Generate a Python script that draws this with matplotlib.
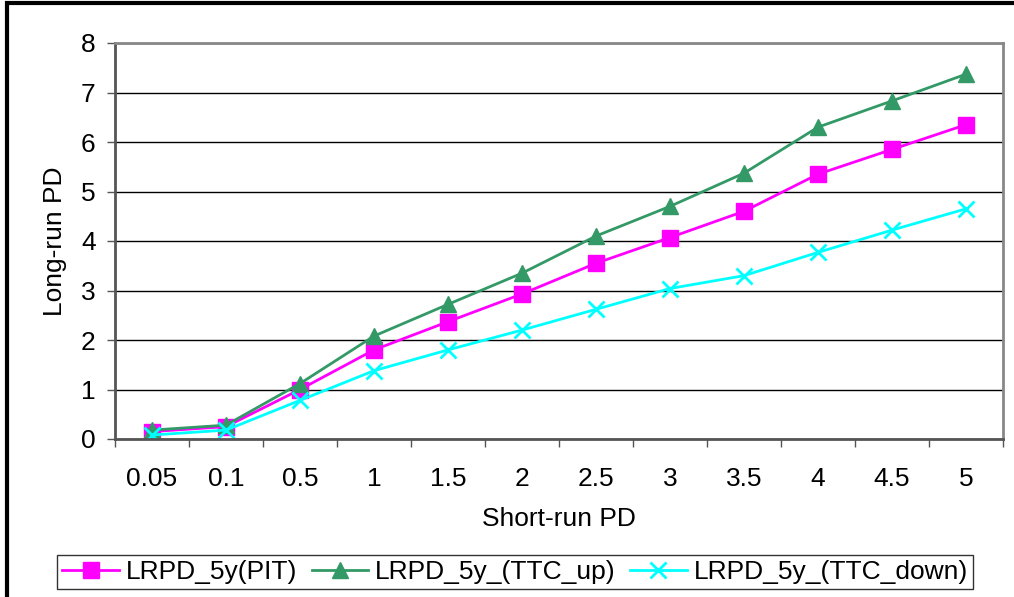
import matplotlib.pyplot as plt
from matplotlib.patches import Rectangle

plt.rcParams['font.family'] = ['Liberation Sans', 'DejaVu Sans']

categories = ['0.05', '0.1', '0.5', '1', '1.5', '2', '2.5', '3', '3.5', '4', '4.5', '5']
pit = [0.15, 0.25, 1.0, 1.8, 2.37, 2.93, 3.55, 4.07, 4.6, 5.35, 5.85, 6.35]
ttc_up = [0.18, 0.28, 1.12, 2.08, 2.72, 3.35, 4.1, 4.7, 5.37, 6.3, 6.83, 7.37]
ttc_down = [0.08, 0.18, 0.78, 1.38, 1.8, 2.2, 2.62, 3.04, 3.3, 3.77, 4.22, 4.65]

fig = plt.figure(figsize=(10.14, 5.97), dpi=100)
ax = fig.add_axes([115 / 1014, 1 - 439 / 597, 888 / 1014, 396 / 597])

x = range(len(categories))
ax.plot(x, pit, color='#FF00FF', marker='s', markersize=11, lw=2, label='LRPD_5y(PIT)')
ax.plot(x, ttc_up, color='#339966', marker='^', markersize=12, lw=2, label='LRPD_5y_(TTC_up)')
ax.plot(x, ttc_down, color='#00FFFF', marker='x', markersize=12, mew=2, lw=2,
        label='LRPD_5y_(TTC_down)')

fs = 19
ax.set_xlim(-0.5, len(categories) - 0.5)
ax.set_ylim(0, 8)
ax.set_yticks(range(0, 9))
ax.set_xticks(list(x))
ax.set_xticklabels(categories)
ax.set_xticks([i + 0.5 for i in range(-1, len(categories))], minor=True)
ax.tick_params(axis='x', which='major', length=0, pad=20, labelsize=fs)
ax.tick_params(axis='x', which='minor', length=6, width=1, color='#555555', direction='out')
ax.tick_params(axis='y', length=6, width=1, color='#555555', labelsize=fs, pad=8)
ax.yaxis.grid(True, color='black', lw=1)
ax.set_axisbelow(True)
for side in ['top', 'right']:
    ax.spines[side].set_color('#888888')
    ax.spines[side].set_linewidth(2)
for side in ['left', 'bottom']:
    ax.spines[side].set_color('#555555')
    ax.spines[side].set_linewidth(2)

ax.set_xlabel('Short-run PD', fontsize=fs, labelpad=12)
ax.set_ylabel('Long-run PD', fontsize=fs, labelpad=10)

leg = fig.legend(loc='center', bbox_to_anchor=(515 / 1014, 1 - 572 / 597), ncol=3,
                 fontsize=fs, frameon=True, fancybox=False, edgecolor='black',
                 handlelength=2.15, handletextpad=0.25, columnspacing=0.55,
                 borderpad=0.2, borderaxespad=0)
leg.get_frame().set_linewidth(1)

fig.patches.append(Rectangle((7 / 1014, -0.1), 1.2, 1 - 3 / 597 + 0.1,
                             transform=fig.transFigure, fill=False,
                             edgecolor='black', lw=3))

fig.savefig('out.png', dpi=100)
